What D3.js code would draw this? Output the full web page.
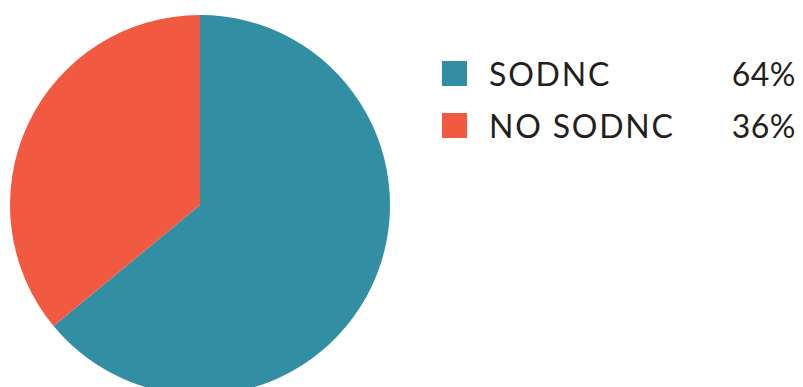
<!DOCTYPE html>
<html>
<head>
<meta charset="utf-8">
<script src="https://cdn.jsdelivr.net/npm/d3@7"></script>
<style>
  body { margin: 0; background: #fff; }
  text { font-family: Lato, "Open Sans", sans-serif; fill: #231f20; }
</style>
</head>
<body>
<svg id="chart"></svg>
<script>
const LABELS = ["SODNC", "NO SODNC"];
const VALUES = [64, 36];
const COLORS = ["#328fa3", "#f15a40"];

const WIDTH = 803;
const HEIGHT = 387;
const RADIUS = 190;

const svg = d3.select("#chart")
    .attr("width", WIDTH)
    .attr("height", HEIGHT);

const color = d3.scaleOrdinal().domain(LABELS).range(COLORS);

const pie = d3.pie().value(d => d.value).sort(null);
const arc = d3.arc().innerRadius(0).outerRadius(RADIUS);

const data = LABELS.map((l, i) => ({ label: l, value: VALUES[i] }));

const g = svg.append("g")
    .attr("transform", "translate(200,205)");

g.selectAll("path")
    .data(pie(data))
    .enter()
    .append("path")
    .attr("d", arc)
    .attr("fill", d => color(d.data.label));

// legend
const legend = svg.selectAll(".legend")
    .data(data)
    .enter().append("g")
    .attr("class", "legend")
    .attr("transform", (d, i) => "translate(442," + (61 + i * 52) + ")");

legend.append("rect")
    .attr("width", 25)
    .attr("height", 25)
    .attr("fill", d => color(d.label));

legend.append("text")
    .attr("x", 47)
    .attr("y", 24.5)
    .attr("font-size", 32)
    .attr("letter-spacing", 1.8)
    .text(d => d.label);

legend.append("text")
    .attr("x", 354)
    .attr("y", 24.5)
    .attr("font-size", 32)
    .attr("letter-spacing", 0.5)
    .attr("text-anchor", "end")
    .text(d => d.value + "%");
</script>
</body>
</html>
